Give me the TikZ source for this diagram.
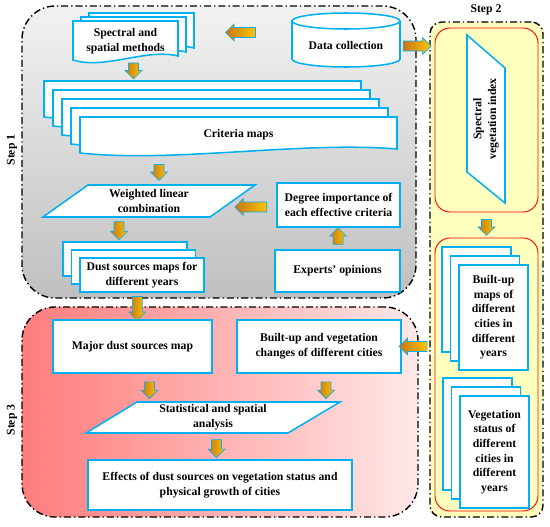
\documentclass[tikz,border=0pt]{standalone}
\usepackage{fontspec}
\setmainfont{Liberation Serif}
\usetikzlibrary{shapes.arrows,calc}

\definecolor{boxblue}{RGB}{0,176,240}
\definecolor{arrowlight}{RGB}{255,196,0}
\definecolor{arrowdark}{RGB}{196,118,24}
\definecolor{steptwo}{RGB}{255,255,190}
\definecolor{stepthreeL}{RGB}{255,124,124}
\definecolor{stepthreeR}{RGB}{255,232,232}

\tikzset{
  boxtext/.style={font=\fontsize{10}{12.5}\selectfont\bfseries, align=center, inner sep=0pt},
  box/.style={boxtext, draw=boxblue, line width=1.3pt, fill=white},
  docline/.style={draw=boxblue, line width=1.3pt, fill=white},
  holder/.style={inner sep=0pt, outer sep=0pt},
  stepframe/.style={draw=black, line width=1.2pt, dash pattern=on 6pt off 2.5pt on 1.2pt off 2.5pt, rounded corners=1cm},
  redframe/.style={draw=red, line width=0.8pt, rounded corners=0.45cm},
  steplabel/.style={font=\fontsize{10}{12}\selectfont\bfseries},
  flowarrow/.style={single arrow, draw=boxblue, line width=0.5pt, left color=arrowdark, right color=arrowlight,
    minimum height=#1, minimum width=14pt, single arrow head extend=3pt, inner xsep=0pt, inner ysep=4pt}
}

\newcommand{\wavydoc}[1]{%
  \draw[docline] (#1.north west) -- (#1.north east) -- ($(#1.south east)+(0,-4)$)
    .. controls ($(#1.south west)!0.7!(#1.south east)+(0,-12)$) and ($(#1.south west)!0.3!(#1.south east)+(0,10)$) .. (#1.south west) -- cycle;}

\begin{document}
\begin{tikzpicture}[x=0.03cm, y=-0.03cm, line width=0.6pt]
  \useasboundingbox (0,0) rectangle (550,527);

  \node[stepframe, top color=gray!10, bottom color=gray!50, minimum width=11.82cm, minimum height=8.76cm] (step1) at (219,152) {};
  \node[stepframe, fill=steptwo, rounded corners=0.35cm, minimum width=3.39cm, minimum height=14.85cm] (step2) at (486.5,269.5) {};
  \node[stepframe, left color=stepthreeL, right color=stepthreeR, minimum width=11.88cm, minimum height=6.3cm] (step3) at (220,412) {};
  \node[steplabel, rotate=90] (step1-label) at (12,150) {Step 1};
  \node[steplabel] (step2-label) at (486,10) {Step 2};
  \node[steplabel, rotate=90] (step3-label) at (12,420) {Step 3};

  % step 1
  \foreach \n/\cx/\cy in {b2/141.5/32.5, b1/133.5/36.5, f/125.5/40.5}{
    \node[holder, minimum width=3.15cm, minimum height=1.17cm] (methods-\n) at (\cx,\cy) {};
    \wavydoc{methods-\n}
  }
  \node[boxtext] (methods) at ($(methods-f)+(0,1)$) {Spectral and\\spatial methods};

  \node[holder, minimum width=3.24cm, minimum height=1.62cm] (data) at (346,40) {};
  \draw[docline] ($(data.north west)+(0,8)$) -- ($(data.south west)+(0,-8)$)
    arc[start angle=180, end angle=360, x radius=1.62cm, y radius=0.24cm]
    -- ($(data.north east)+(0,8)$) arc[start angle=0, end angle=180, x radius=1.62cm, y radius=0.24cm] -- cycle;
  \draw[docline, fill=none] ($(data.north west)+(0,8)$) arc[start angle=180, end angle=360, x radius=1.62cm, y radius=0.24cm];
  \node[boxtext] (data-text) at ($(data)+(0,5)$) {Data collection};

  \foreach \n/\cx/\cy in {b4/202.5/99, b3/211.5/108, b2/220.5/117, b1/229.5/126, f/238.5/135}{
    \node[holder, minimum width=9.51cm, minimum height=1.08cm] (crit-\n) at (\cx,\cy) {};
    \wavydoc{crit-\n}
  }
  \node[boxtext] (crit) at (crit-f) {Criteria maps};

  \node[holder, minimum width=6.36cm, minimum height=0.96cm] (wlc) at (149,201) {};
  \draw[docline] (wlc.south west) -- ($(wlc.north west)+(45,0)$) -- (wlc.north east) -- ($(wlc.south east)+(-45,0)$) -- cycle;
  \node[boxtext] (wlc-text) at (wlc) {Weighted linear\\combination};

  \node[box, minimum width=3.69cm, minimum height=1.32cm] (degree) at (338.5,205) {Degree importance of\\each effective criteria};
  \node[box, minimum width=3.75cm, minimum height=1.26cm] (experts) at (337.5,271) {Experts' opinions};

  \foreach \n/\cx/\cy in {b2/125/259, b1/133.5/267}{
    \node[box, minimum width=3.72cm, minimum height=1.02cm] (dust-\n) at (\cx,\cy) {};
  }
  \node[box, minimum width=3.72cm, minimum height=1.02cm] (dust) at (142,275) {Dust sources maps for\\different years};

  % step 2
  \node[redframe, minimum width=3.09cm, minimum height=5.52cm] (red1) at (486.5,120) {};
  \node[redframe, minimum width=3.09cm, minimum height=8.19cm] (red2) at (486.5,374.5) {};

  \node[holder, minimum width=1.14cm, minimum height=5.04cm] (svi) at (486,119) {};
  \draw[docline] (svi.north west) -- ($(svi.north east)+(0,33)$) -- (svi.south east) -- ($(svi.south west)+(0,-31)$) -- cycle;
  \node[boxtext, rotate=90] (svi-text) at (svi) {Spectral\\vegetation index};

  \foreach \n/\cx/\cy in {b2/476.5/299.5, b1/485/308.5}{
    \node[box, minimum width=2.07cm, minimum height=3.15cm] (built-\n) at (\cx,\cy) {};
  }
  \node[box, minimum width=2.07cm, minimum height=3.15cm] (built) at (493.5,317.5) {Built-up\\maps of\\different\\cities in\\different\\years};
  \foreach \n/\cx/\cy in {b2/477.5/434, b1/486/443}{
    \node[box, minimum width=2.07cm, minimum height=3.36cm] (veg-\n) at (\cx,\cy) {};
  }
  \node[box, minimum width=2.07cm, minimum height=3.36cm] (veg) at (494.5,452) {Vegetation\\status of\\different\\cities in\\different\\years};

  % step 3
  \node[box, minimum width=4.77cm, minimum height=1.59cm] (major) at (132.5,346.5) {Major dust sources map};
  \node[box, minimum width=4.92cm, minimum height=1.59cm] (changes) at (319,346.5) {Built-up and vegetation\\changes of different cities};

  \node[holder, minimum width=7.62cm, minimum height=0.93cm] (stat) at (213,417.5) {};
  \draw[docline] (stat.south west) -- ($(stat.north west)+(51,0)$) -- (stat.north east) -- ($(stat.south east)+(-52,0)$) -- cycle;
  \node[boxtext] (stat-text) at (stat) {Statistical and spatial\\analysis};

  \node[box, minimum width=7.92cm, minimum height=1.5cm] (effects) at (220,485) {Effects of dust sources on vegetation status and\\physical growth of cities};

  % arrows
  \node[flowarrow=0.9cm, rotate=180] (a1) at ($(methods-b2.east)!0.5!(data.west |- methods-b2.east)$) {};
  \node[flowarrow=0.84cm] (a2) at ($(data.east)!0.5!(step2.west |- data.east)+(0,6)$) {};
  \node[flowarrow=0.48cm, rotate=-90] (a3) at ($(methods-b1.south)!0.5!(methods-b1.south |- crit-b4.north)$) {};
  \node[flowarrow=0.48cm, rotate=-90] (a4) at ($(wlc.north)+(10,-15)$) {};
  \node[flowarrow=0.96cm, rotate=180] (a5) at ($(degree.west)+(-23,2)$) {};
  \node[flowarrow=0.5cm, rotate=90] (a6) at ($(degree.south)!0.5!(experts.north)$) {};
  \node[flowarrow=0.54cm, rotate=-90] (a7) at ($(dust-b2.north)+(-6,-13)$) {};
  \node[flowarrow=0.72cm, rotate=-90] (a8) at ($(dust.south)!0.5!(major.north)$) {};
  \node[flowarrow=0.48cm, rotate=-90] (a9) at ($(red1.south)!0.5!(red2.north)$) {};
  \node[flowarrow=0.84cm, rotate=180] (a10) at ($(changes.east)!0.5!(step2.west |- changes.east)$) {};
  \node[flowarrow=0.5cm, rotate=-90] (a11) at ($(major.south)+(17,14)$) {};
  \node[flowarrow=0.5cm, rotate=-90] (a12) at ($(changes.south)+(7,14)$) {};
  \node[flowarrow=0.54cm, rotate=-90] (a13) at ($(stat.south)!0.5!(effects.north)$) {};
\end{tikzpicture}
\end{document}
